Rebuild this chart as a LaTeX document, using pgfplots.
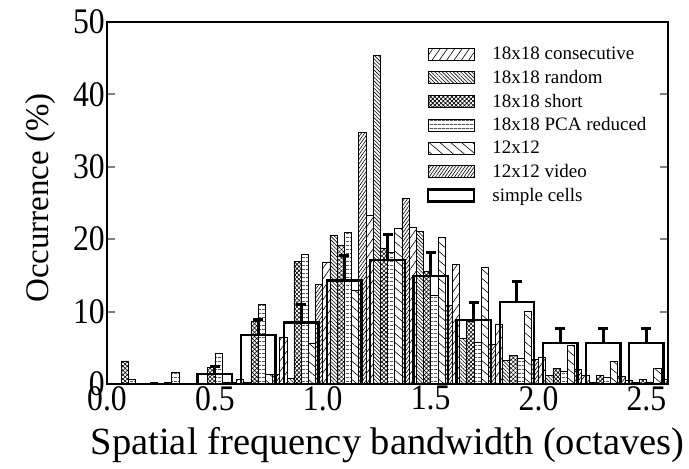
\documentclass[border=0pt]{standalone}
\usepackage{fontspec}
\setmainfont{Liberation Serif}
\newfontfamily\narrowfont{Liberation Serif}[FakeStretch=0.88]
\usepackage{pgfplots}
\pgfplotsset{compat=1.18}
\usepackage{pgfplotstable}
\usetikzlibrary{patterns.meta}

\pgfplotstableread{
x   C    R    S    P    T    V
0.1 0    0    3.2  0.7  0    0
0.3 0.2  0.1  0.2  1.6  0.1  0.1
0.5 0.1  0.1  2.3  4.3  0.3  0.3
0.7 0.7  0.2  8.6  11.0 1.3  1.4
0.9 6.5  0.8  16.9 17.9 5.6  13.8
1.1 16.8 20.6 19.2 20.9 13.0 34.7
1.3 23.3 45.4 18.8 18.2 21.5 25.7
1.5 21.7 21.1 15.5 12.2 20.3 10.9
1.7 16.5 6.3  8.6  5.8  16.1 5.5
1.9 8.3  3.3  4.0  3.5  10.1 3.4
2.1 3.7  1.2  2.2  1.7  5.4  2.0
2.3 1.2  0.3  1.2  0.9  3.1  1.1
2.5 0.55 0.2  0.65 0.3  2.2  0.65
}\models

\pgfplotstableread{
x   SC   SCe
0.5 1.4  1.0
0.7 6.8  2.1
0.9 8.5  2.5
1.1 14.3 3.4
1.3 17.1 3.5
1.5 14.9 3.2
1.7 8.8  2.5
1.9 11.3 2.8
2.1 5.7  2.0
2.3 5.7  2.0
2.5 5.7  2.0
}\cells

\pgfplotsset{
  boxlegend/.style={legend image code/.code={\draw[##1] (0pt,-6pt) rectangle (46pt,6pt);\path (62pt,0pt);}},
  narrowbar/.style={ybar, bar width=0.0333, bar shift=0pt, draw=black, line width=0.6pt, boxlegend},
}

\begin{document}
\begin{tikzpicture}
\begin{axis}[
  name=ax,
  scale only axis,
  width=561pt, height=362pt,
  xmin=0, xmax=2.6, ymin=0, ymax=50,
  axis line style={line width=2.5pt},
  xtick={0,0.5,1,1.5,2,2.5},
  ytick={0,10,20,30,40,50},
  xtick style={draw=none},
  ytick style={line width=2pt},
  major tick length=8pt,
  tick pos=both,
  tick align=inside,
  xticklabel pos=bottom, yticklabel pos=left,
  /pgf/number format/assume math mode=true,
  xticklabel style={/pgf/number format/.cd, fixed, fixed zerofill, precision=1},
  ticklabel style={font=\narrowfont\fontsize{36}{36}\selectfont, inner sep=2pt},
  xlabel={Spatial frequency bandwidth (octaves)},
  ylabel={Occurrence (\%)},
  xlabel style={font=\fontsize{38.5}{38.5}\selectfont, at={(axis description cs:0.5,0)}, anchor=base, yshift=-70pt},
  ylabel style={font=\fontsize{33}{33}\selectfont, at={(axis description cs:-0.104,0.514)}, anchor=base},
  legend style={at={(0.570,0.934)}, anchor=north west, draw=none, fill=none,
    font=\fontsize{19}{19}\selectfont, row sep=7pt, inner sep=0pt,
    nodes={inner sep=1pt}},
  legend cell align=left,
]
\addplot[narrowbar, pattern={Lines[angle=55,distance=6pt,line width=0.6pt]}]
  table[x expr=\thisrow{x}-0.0833, y=C] {\models};
\addlegendentry{18x18 consecutive}
\addplot[narrowbar, pattern={Lines[angle=-45,distance=2.6pt,line width=0.6pt]}]
  table[x expr=\thisrow{x}-0.05, y=R] {\models};
\addlegendentry{18x18 random}
\addplot[narrowbar, pattern={Hatch[angle=45,distance=3pt,line width=0.6pt]}]
  table[x expr=\thisrow{x}-0.0167, y=S] {\models};
\addlegendentry{18x18 short}
\addplot[narrowbar, pattern={Lines[angle=0,distance=4pt,line width=0.6pt]}]
  table[x expr=\thisrow{x}+0.0167, y=P] {\models};
\addlegendentry{18x18 PCA reduced}
\addplot[narrowbar, pattern={Lines[angle=-40,distance=7pt,line width=0.6pt]}]
  table[x expr=\thisrow{x}+0.05, y=T] {\models};
\addlegendentry{12x12}
\addplot[narrowbar, pattern={Lines[angle=55,distance=2.6pt,line width=0.6pt]}]
  table[x expr=\thisrow{x}+0.0833, y=V] {\models};
\addlegendentry{12x12 video}
\addplot[ybar, bar width=0.16, bar shift=0pt, draw=black, line width=2.4pt, fill=none, boxlegend,
  error bars/.cd, y dir=plus, y explicit,
  error bar style={line width=3pt},
  error mark=|,
  error mark options={line width=3pt, mark size=5pt}]
  table[x=x, y=SC, y error=SCe] {\cells};
\addlegendentry{simple cells}
\end{axis}
\path ([xshift=-107pt,yshift=-84pt]ax.south west) rectangle ([xshift=21pt,yshift=22pt]ax.north east);
\end{tikzpicture}
\end{document}
